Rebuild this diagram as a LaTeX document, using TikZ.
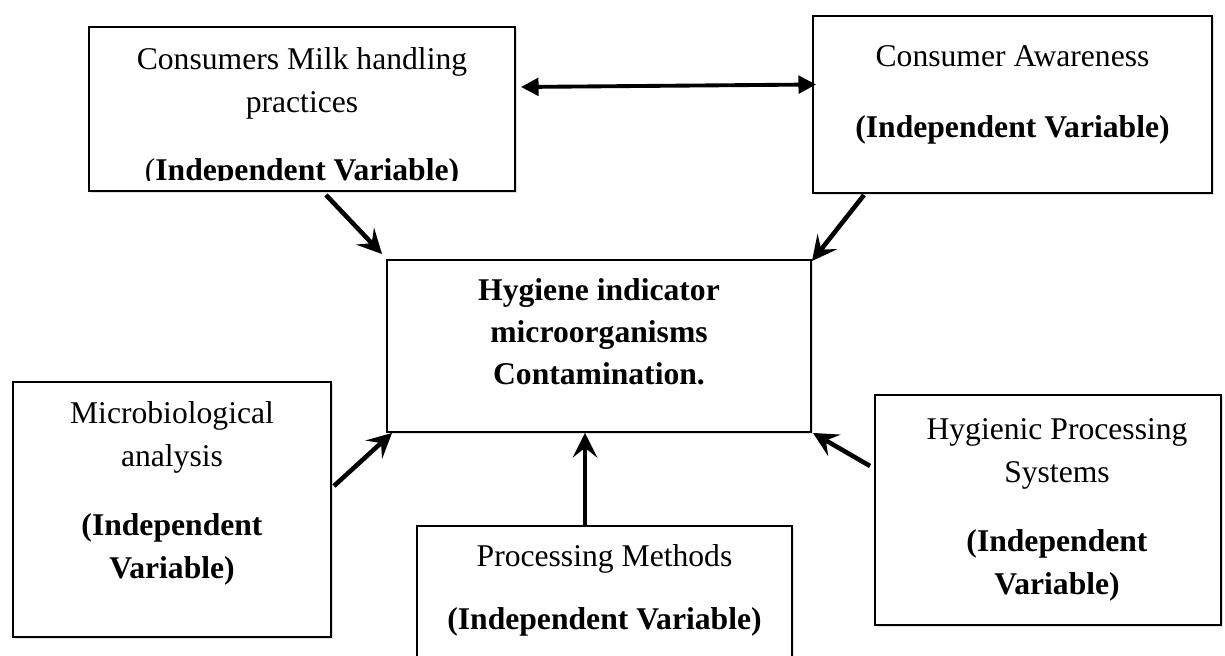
\documentclass[tikz,border=0pt]{standalone}
\usepackage{fontspec}
\setmainfont{Liberation Serif}
\usetikzlibrary{calc}
\usetikzlibrary{positioning}
\usetikzlibrary{arrows.meta}
\usetikzlibrary{shadows}

\begin{document}
\begin{tikzpicture}[scale=1.0,
		box/.style={draw, line width=1.1pt, fill=white,
			drop shadow={shadow xshift=0.9pt, shadow yshift=-1.3pt, opacity=0.25}},
		txt/.style={align=center, inner sep=0pt, font=\fontsize{18}{24.5}\selectfont},
		btxt/.style={txt, font=\fontsize{18}{24}\selectfont\bfseries},
		arr/.style={line width=2.6pt, -{Stealth[length=14pt, width=14pt, inset=5.5pt]}},
		darr/.style={line width=2.2pt, {Triangle[length=10pt, width=10pt]}-{Triangle[length=10pt, width=10pt]}}]
		% page frame
		\useasboundingbox (0,0) rectangle (24.5,13.1);
		\clip (0,0) rectangle (24.5,13.1);

		% Boxes
		\node[box, minimum width=8.52cm, minimum height=3.28cm] (cmh)   at (6.04,10.92) {};
		\node[box, minimum width=7.98cm, minimum height=3.54cm] (aware) at (20.25,11.01) {};
		\node[box, minimum width=8.48cm, minimum height=3.44cm] (hyg)   at (11.98,6.18) {};
		\node[box, minimum width=6.36cm, minimum height=5.10cm] (micro) at (3.44,2.91) {};
		\node[box, minimum width=7.50cm, minimum height=3.28cm] (proc)  at (12.09,0.94) {};
		\node[box, minimum width=6.92cm, minimum height=4.60cm] (hps)   at (20.96,2.9) {};

		% Texts in the boxes
		\begin{scope}
			\clip (cmh.north west) rectangle ([yshift=0.22cm]cmh.south east);
			\node[txt, below=0.42cm of cmh.north] (cmhtext)
				{Consumers Milk handling\\ practices\\[0.5cm] (\textbf{Independent Variable)}};
		\end{scope}
		\node[txt, below=0.6cm of aware.north] (awaretext)
			{Consumer Awareness\\[0.56cm] \textbf{(Independent Variable)}};
		\node[btxt, below=0.38cm of hyg.north] (hygtext)
			{Hygiene indicator\\ microorganisms\\ Contamination.};
		\node[txt, below=0.4cm of micro.north] (microtext)
			{Microbiological\\ analysis\\[0.52cm] \textbf{(Independent}\\ \textbf{Variable)}};
		\node[txt, below=0.38cm of proc.north] (proctext)
			{Processing Methods\\[0.4cm] \textbf{(Independent Variable)}};
		\node[txt, below=0.48cm of hps.north, xshift=0.18cm] (hpstext)
			{Hygienic Processing\\ Systems\\[0.52cm] \textbf{(Independent}\\ \textbf{Variable)}};

		% Connectors
		\draw[darr] ([xshift=0.1cm, yshift=0.44cm]cmh.east) -- ([xshift=0.08cm, yshift=0.4cm]aware.west);
		\draw[arr] ([xshift=0.48cm, yshift=-0.06cm]cmh.south) -- ([xshift=-0.08cm, yshift=0.1cm]hyg.north west);
		\draw[arr] ([xshift=-2.97cm, yshift=-0.02cm]aware.south) -- ([yshift=-0.04cm]hyg.north east);
		\draw[arr] ([xshift=0.04cm, yshift=0.47cm]micro.east) -- ([xshift=0.12cm]hyg.south west);
		\draw[arr] ([xshift=-0.39cm]proc.north) -- ([xshift=-0.39cm]proc.north |- hyg.south);
		\draw[arr] ([xshift=-0.08cm, yshift=0.88cm]hps.west) -- ([xshift=0.02cm]hyg.south east);
	\end{tikzpicture}
\end{document}
